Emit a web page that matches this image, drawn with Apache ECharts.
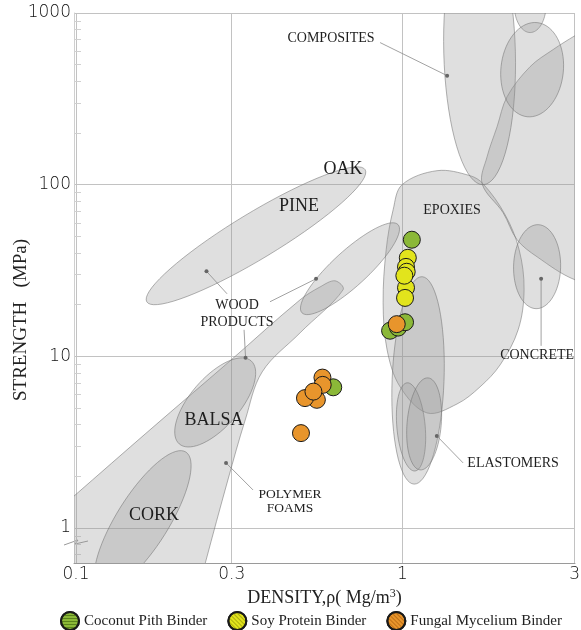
<!DOCTYPE html>
<html>
<head>
<meta charset="utf-8">
<script src="https://cdn.jsdelivr.net/npm/echarts@6/dist/echarts.min.js"></script>
<style>
  html, body { margin: 0; background: #fff; }
  #main { width: 581px; height: 630px; }
</style>
</head>
<body>
<div id="main"></div>
<script>
// axes
const xTickValues = [0.1, 0.3, 1, 3.37];
const xTickLabels = ['0.1', '0.3', '1', '3'];
const yTickValues = [1, 10, 100, 1000];
const yMinorTicks = [0.7, 0.8, 0.9, 2, 3, 4, 5, 6, 7, 8, 9, 20, 30, 40, 50, 60, 70, 80, 90,
  200, 300, 400, 500, 600, 700, 800, 900];

// binder samples: [density Mg/m3, strength MPa]
const coconutPith = [[1.069, 47.8], [0.917, 14.1], [0.970, 14.7], [1.019, 15.8], [0.614, 6.6]];
const soyProtein = [[1.039, 37.5], [1.026, 33.2], [1.031, 31.1], [1.026, 25.1], [1.019, 21.9], [1.014, 29.5]];
const fungalMycelium = [[0.569, 7.52], [0.547, 5.58], [0.503, 5.71], [0.570, 6.82], [0.534, 6.23],
  [0.489, 3.57], [0.961, 15.4]];

// material envelopes drawn as ellipses: centre x, centre y, tip x, tip y, minor/major
const envelopeEllipses = [
  [0.356, 50.4, 0.769, 122.3, 0.18],  // pine / oak
  [0.691, 32.4, 0.970, 58.5, 0.27],   // wood products
  [0.267, 5.39, 0.344, 9.41, 0.45],   // balsa
  [0.160, 1.10, 0.217, 2.77, 0.32],   // cork
  [1.117, 7.24, 1.149, 29.1, 0.25],   // elastomers
  [1.063, 3.88, 1.034, 7.01, 0.32],
  [1.166, 4.04, 1.199, 7.49, 0.37],
  [2.587, 33.3, 2.606, 58.5, 0.56],   // concrete
  [1.724, 592, 1.767, 100, 0.27],     // composites
  [2.463, 1121, 2.463, 770, 0.57],
  [2.498, 468, 2.587, 880, 0.66]
];

// free-form envelopes (outline points)
const foamOutline = [[0.622, 27.55], [0.658, 24.4], [0.486, 13.71], [0.372, 8.12], [0.330, 4.26],
  [0.292, 1.905], [0.249, 0.625], [0.216, 0.222], [0.0674, 0.222], [0.0674, 0.818], [0.0979, 1.516],
  [0.1685, 3.73], [0.2965, 9.41], [0.486, 21.35], [0.560, 25.4]];
const epoxyOutline = [[0.998, 100], [1.277, 120.7], [1.612, 112.9], [1.767, 101.3], [2.064, 66.9],
  [2.279, 41.8], [2.36, 24.4], [2.263, 14.27], [1.993, 8.92], [1.73, 6.64], [1.471, 5.28],
  [1.19, 4.68], [0.984, 6.64], [0.898, 10.9], [0.873, 20.5], [0.892, 41.8], [0.937, 71.5]];
const compositeBand = [[1.755, 101.3], [1.818, 145.7], [1.951, 217.9], [2.094, 326], [2.463, 487.5],
  [2.896, 612.7], [3.383, 739.2], [4.648, 1048], [8.17, 1568], [12.48, 313], [8.17, 36.5],
  [4.648, 24.4], [3.383, 27.9], [2.587, 38.0], [2.246, 47.8], [2.035, 68.7]];
const outlines = [foamOutline, epoxyOutline, compositeBand];

// annotations
const tagText = ['COMPOSITES', 'OAK', 'PINE', 'EPOXIES', 'WOOD\nPRODUCTS', 'CONCRETE', 'BALSA',
  'ELASTOMERS', 'POLYMER\nFOAMS', 'CORK'];
const tagAt = [[0.6045, 710], [0.658, 122.3], [0.4825, 74.4], [1.42, 70.5], [0.3114, 17.8],
  [2.587, 10.07], [0.2648, 4.26], [2.184, 2.393], [0.4526, 1.418], [0.1734, 1.191]];
// dot x, dot y, end x, end y
const leaderLines = [[1.371, 432, 0.8545, 673], [0.2511, 31.3, 0.2903, 23.14], [0.5439, 28.3, 0.393, 20.8],
  [0.3308, 9.8, 0.3273, 14.27], [0.2882, 2.393, 0.3487, 1.665], [2.661, 28.3, 2.661, 11.51],
  [1.275, 3.439, 1.535, 2.393]];

const serif = '"Liberation Serif", "Times New Roman", serif';
const envStyle = { fill: 'rgba(150,150,150,0.3)', stroke: 'rgba(115,115,115,0.55)', lineWidth: 1 };

function ellipsePoints(api, e) {
  const c = api.coord([e[0], e[1]]);
  const t = api.coord([e[2], e[3]]);
  const dx = t[0] - c[0], dy = t[1] - c[1];
  const a = Math.hypot(dx, dy), b = a * e[4];
  const ux = dx / a, uy = dy / a;
  const pts = [];
  for (let k = 0; k < 72; k++) {
    const th = (k / 72) * Math.PI * 2;
    const ca = Math.cos(th) * a, sb = Math.sin(th) * b;
    pts.push([c[0] + ca * ux - sb * uy, c[1] + ca * uy + sb * ux]);
  }
  return pts;
}

function stripes(color, angle) {
  return { symbol: 'rect', symbolSize: 1, dashArrayX: [1, 0], dashArrayY: [1, 2], rotation: angle, color: color };
}

let myChart = echarts.init(document.getElementById('main'));

myChart.setOption({
  animation: false,
  aria: { enabled: true, decal: { show: true } },
  grid: { left: 74, right: 6, top: 13, bottom: 67, outerBoundsMode: 'none' },
  legend: {
    data: ['Coconut Pith Binder', 'Soy Protein Binder', 'Fungal Mycelium Binder'],
    left: 55, top: 606,
    itemWidth: 18, itemHeight: 18, itemGap: 20,
    icon: 'circle',
    textStyle: { fontFamily: serif, fontSize: 15, color: '#222' }
  },
  xAxis: {
    type: 'log', logBase: 10, min: 0.0986, max: 3.38,
    name: 'DENSITY,ρ( Mg/m{sup|3})',
    nameLocation: 'middle', nameGap: 25,
    nameTextStyle: {
      fontFamily: serif, fontSize: 18, color: '#222',
      rich: { sup: { fontFamily: serif, fontSize: 12, color: '#222', verticalAlign: 'top', padding: [0, 0, 8, 0] } }
    },
    axisLine: { show: true, lineStyle: { color: '#9a9a9a' } },
    axisTick: { show: false, customValues: xTickValues },
    axisLabel: {
      customValues: xTickValues, margin: 3,
      fontFamily: 'DejaVu Sans', fontWeight: 200, fontSize: 17, color: '#111',
      formatter: v => {
        const i = xTickValues.findIndex(t => Math.abs(t - v) / t < 1e-6);
        return i < 0 ? '' : xTickLabels[i];
      }
    },
    splitLine: { show: true, lineStyle: { color: '#c2c2c2' } }
  },
  yAxis: [{
    type: 'log', logBase: 10, min: 0.625, max: 1001,
    name: 'STRENGTH   (MPa)',
    nameLocation: 'middle', nameGap: 43, nameMoveOverlap: false,
    nameTextStyle: { fontFamily: serif, fontSize: 19, color: '#222', padding: [0, 64, 0, 0] },
    axisLine: { show: true, lineStyle: { color: '#cfcfcf' } },
    axisTick: { show: false, customValues: yTickValues },
    axisLabel: {
      customValues: yTickValues, margin: 3,
      fontFamily: 'DejaVu Sans', fontWeight: 200, fontSize: 17, color: '#111',
      formatter: v => String(Math.round(v))
    },
    splitLine: { show: true, lineStyle: { color: '#c2c2c2' } }
  }, {
    type: 'log', logBase: 10, min: 0.625, max: 1001, position: 'left',
    axisLine: { show: false },
    axisLabel: { show: false },
    splitLine: { show: false },
    axisTick: { show: true, inside: true, length: 7, customValues: yMinorTicks, lineStyle: { color: '#d0d0d0' } }
  }],
  graphic: [{
    type: 'polyline', silent: true,
    shape: { points: [[64, 545], [78, 540], [75, 544], [88, 541]] },
    style: { stroke: '#9a9a9a', fill: null, lineWidth: 1 }
  }],
  series: [
    {
      type: 'custom', coordinateSystem: 'cartesian2d', clip: true, silent: true, z: 1,
      data: outlines.map((o, i) => [o[0][0], o[0][1], i]),
      encode: { x: 0, y: 1 },
      renderItem: (params, api) => ({
        type: 'polygon',
        shape: { points: outlines[api.value(2)].map(p => api.coord(p)), smooth: 0.35 },
        style: envStyle
      })
    },
    {
      type: 'custom', coordinateSystem: 'cartesian2d', clip: true, silent: true, z: 1,
      data: envelopeEllipses.map((e, i) => [e[0], e[1], i]),
      encode: { x: 0, y: 1 },
      renderItem: (params, api) => ({
        type: 'polygon',
        shape: { points: ellipsePoints(api, envelopeEllipses[api.value(2)]) },
        style: envStyle
      })
    },
    {
      type: 'custom', coordinateSystem: 'cartesian2d', silent: true, z: 2,
      data: leaderLines,
      encode: { x: [0, 2], y: [1, 3] },
      renderItem: (params, api) => {
        const a = api.coord([api.value(0), api.value(1)]);
        const b = api.coord([api.value(2), api.value(3)]);
        return {
          type: 'group',
          children: [
            { type: 'line', shape: { x1: a[0], y1: a[1], x2: b[0], y2: b[1] }, style: { stroke: '#8a8a8a', lineWidth: 0.8 } },
            { type: 'circle', shape: { cx: a[0], cy: a[1], r: 2 }, style: { fill: '#666' } }
          ]
        };
      }
    },
    {
      type: 'custom', coordinateSystem: 'cartesian2d', silent: true, z: 2,
      data: tagAt.map((p, i) => [p[0], p[1], i]),
      encode: { x: 0, y: 1 },
      renderItem: (params, api) => {
        const i = api.value(2);
        const p = api.coord([api.value(0), api.value(1)]);
        const text = tagText[i];
        const big = ['OAK', 'PINE', 'BALSA', 'CORK'].indexOf(text) >= 0;
        const size = big ? 18 : (text.indexOf('FOAMS') >= 0 ? 13.5 : 14);
        return {
          type: 'text', x: p[0], y: p[1],
          style: {
            text: text, align: 'center', verticalAlign: 'middle',
            fontFamily: serif, fontSize: size, lineHeight: text.indexOf('WOOD') >= 0 ? 17 : 14,
            fill: '#1e1e1e'
          }
        };
      }
    },
    {
      name: 'Coconut Pith Binder', type: 'scatter', z: 3, symbolSize: 17,
      data: coconutPith,
      itemStyle: { color: '#8bb838', borderColor: '#1a1a1a', borderWidth: 1, opacity: 1,
        decal: stripes('rgba(50,85,5,0.55)', 0) }
    },
    {
      name: 'Soy Protein Binder', type: 'scatter', z: 3, symbolSize: 17,
      data: soyProtein,
      itemStyle: { color: '#e2e41c', borderColor: '#1a1a1a', borderWidth: 1, opacity: 1,
        decal: stripes('rgba(120,120,0,0.5)', Math.PI / 4) }
    },
    {
      name: 'Fungal Mycelium Binder', type: 'scatter', z: 3, symbolSize: 17,
      data: fungalMycelium,
      itemStyle: { color: '#e8952c', borderColor: '#1a1a1a', borderWidth: 1, opacity: 1,
        decal: stripes('rgba(150,75,0,0.5)', Math.PI / 4) }
    }
  ]
});
</script>
</body>
</html>
